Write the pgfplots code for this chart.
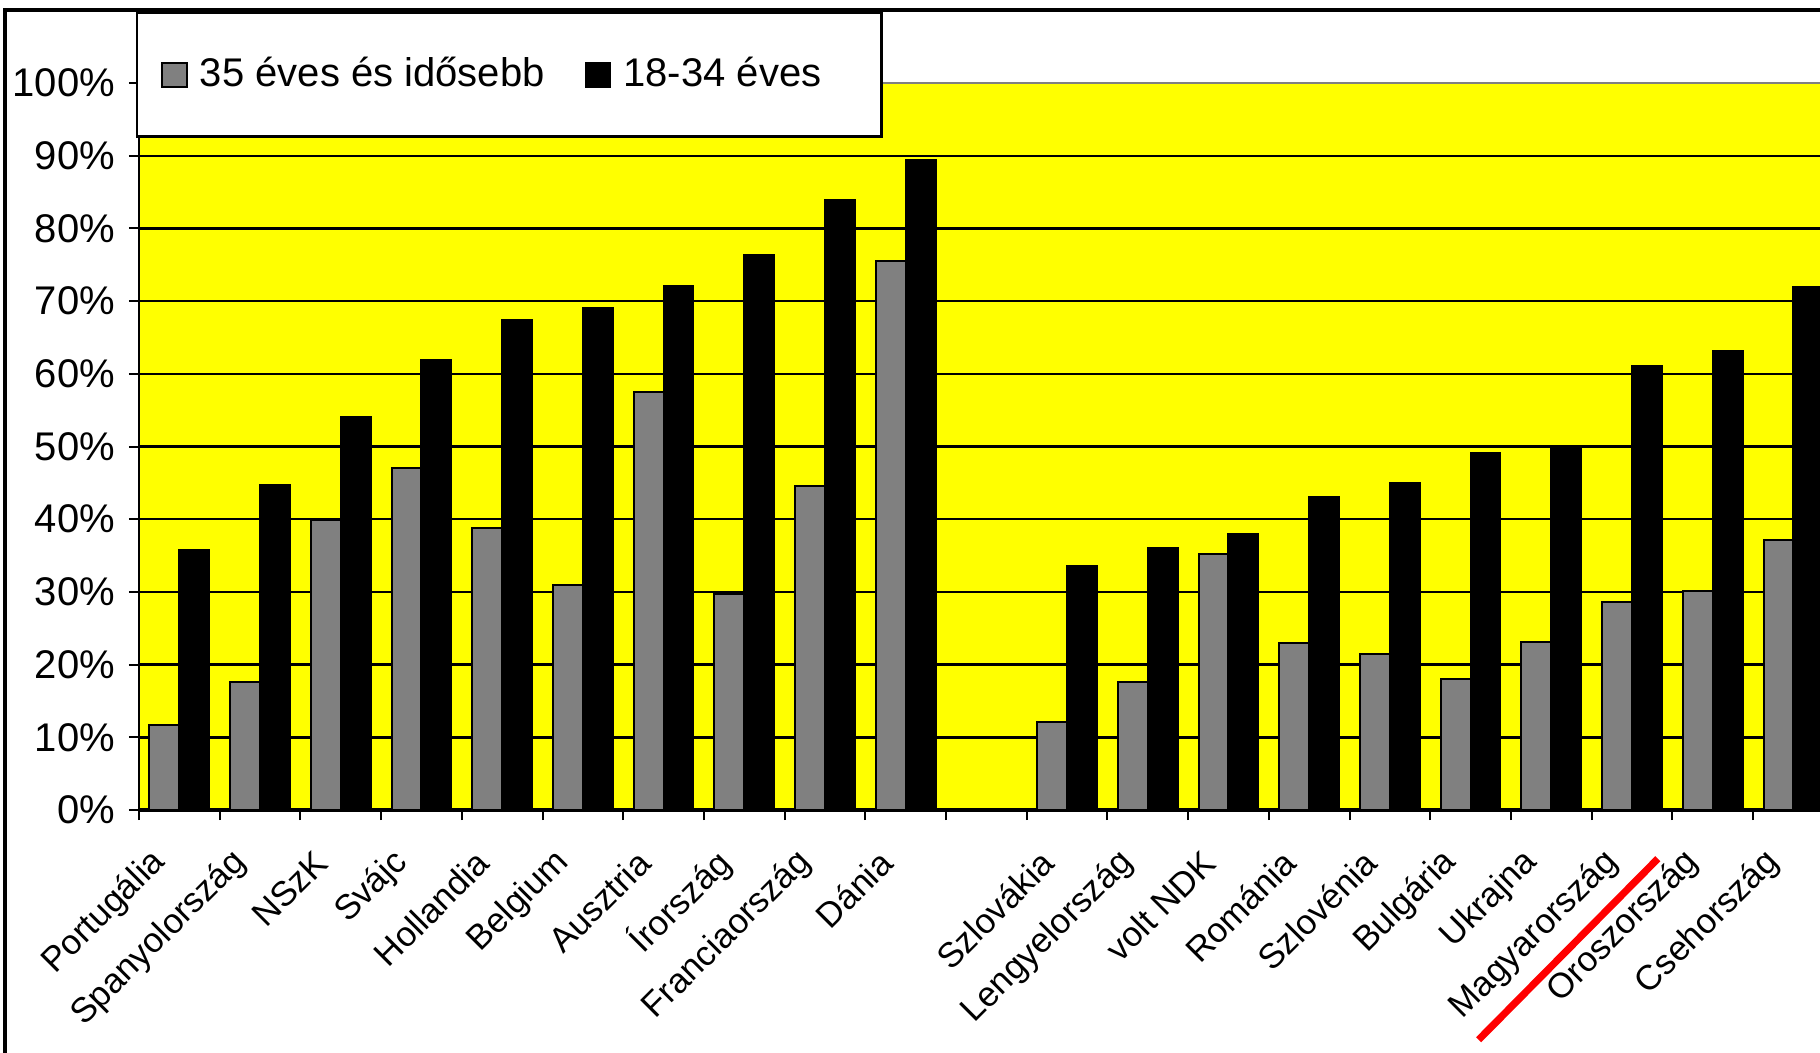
\documentclass[border=0pt]{standalone}
\usepackage{fontspec}
\setmainfont{Liberation Sans}
\usepackage{pgfplots}
\pgfplotsset{compat=1.18}
\definecolor{barGrey}{HTML}{808080}
\definecolor{bgYellow}{HTML}{FFFF00}
\begin{document}
\begin{tikzpicture}
\useasboundingbox (-34.75pt,-60.5pt) rectangle (420.25pt,202.5pt);
\begin{axis}[
  at={(0,0)}, anchor=south west, scale only axis,
  width=420.25pt, height=181.75pt,
  xmin=-0.5, xmax=20.33, ymin=0, ymax=100,
  clip=false,
  axis background/.style={fill=bgYellow},
  axis x line*=bottom, axis y line*=left,
  x axis line style={line width=0.9pt, -},
  y axis line style={line width=0.6pt, -},
  ybar, bar width=0.37,
  ytick={0,10,...,100},
  minor ytick={0,10,...,100},
  yticklabels={0\%,10\%,20\%,30\%,40\%,50\%,60\%,70\%,80\%,90\%,100\%},
  ymajorgrids, major grid style={black, line width=0.6pt},
  tick align=outside, major tick length=0pt, minor tick length=2.5pt,
  tick style={black, line width=0.5pt},
  xtick={0,1,2,3,4,5,6,7,8,9,11,12,13,14,15,16,17,18,19,20},
  xticklabels={Portugália,Spanyolország,NSzK,Svájc,Hollandia,Belgium,Ausztria,Írország,Franciaország,Dánia,Szlovákia,Lengyelország,volt NDK,Románia,Szlovénia,Bulgária,Ukrajna,Magyarország,Oroszország,Csehország},
  minor xtick={-0.5,0.5,...,19.5},
  xticklabel style={xshift=-2.4pt, yshift=-9.3pt, rotate=45, anchor=east, font=\fontsize{8.7}{10}\selectfont},
  yticklabel style={xshift=-2.5pt, font=\fontsize{10}{12}\selectfont},
  legend columns=2,
  legend style={at={(-0.0018,1.0977)}, anchor=north west, draw=black, line width=0.6pt, fill=white,
    inner xsep=6pt, inner ysep=9pt, font=\fontsize{10}{12}\selectfont,
    /tikz/every even column/.append style={column sep=8pt},
    /tikz/every odd column/.append style={column sep=1pt}},
  legend image code/.code={\draw[#1, line width=0.5pt] (0pt,-3.1pt) rectangle (6.2pt,3.1pt);},
]
\addplot[bar shift=-0.185, fill=barGrey, draw=black, line width=0.5pt] coordinates {
 (0,11.7) (1,17.6) (2,39.9) (3,47.0) (4,38.8) (5,30.9) (6,57.5) (7,29.7) (8,44.6) (9,75.5)
 (11,12.1) (12,17.6) (13,35.2) (14,23.0) (15,21.5) (16,18.0) (17,23.1) (18,28.6) (19,30.1) (20,37.2)};
\addlegendentry{35 éves és idősebb}
\addplot[bar shift=0.185, fill=black, draw=black, line width=0.5pt] coordinates {
 (0,35.7) (1,44.7) (2,54.1) (3,61.9) (4,67.4) (5,69.0) (6,72.1) (7,76.4) (8,83.9) (9,89.4)
 (11,33.6) (12,36.0) (13,37.9) (14,43.0) (15,45.0) (16,49.1) (17,50.1) (18,61.1) (19,63.1) (20,72.0)};
\addlegendentry{18-34 éves\hspace*{7pt}}
\draw[gray, line width=0.7pt] (rel axis cs:0,1) -- (rel axis cs:1,1);
\draw[red, line width=1.8pt] (axis cs:16.10,-31.6) -- (axis cs:18.32,-6.7);
\end{axis}
\draw[line width=0.8pt] (-33.5pt,-61pt) -- (-33.5pt,200pt) -- (421pt,200pt);
\end{tikzpicture}
\end{document}
